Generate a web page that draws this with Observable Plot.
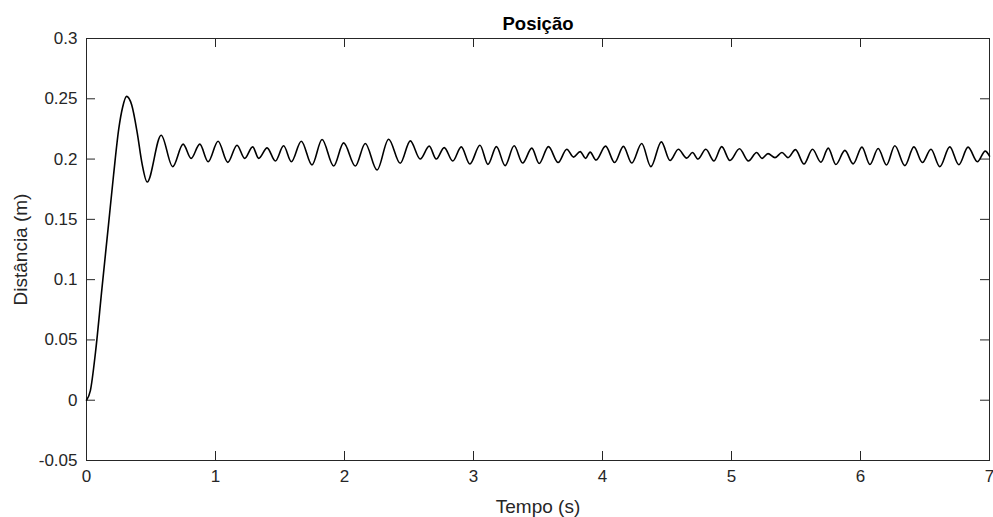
<!DOCTYPE html>
<html><head><meta charset="utf-8">
<script src="https://cdn.jsdelivr.net/npm/d3@7"></script>
<script src="https://cdn.jsdelivr.net/npm/@observablehq/plot@0.6"></script>
<style>body{margin:0;background:#fff} svg{display:block}</style>
</head><body><div id="chart"></div>
<script>
const titulo = "Posição";
const xLabel = "Tempo (s)";
const yLabel = "Distância (m)";
const xTicks = [0, 1, 2, 3, 4, 5, 6, 7];
const yTicks = [-0.05, 0, 0.05, 0.1, 0.15, 0.2, 0.25, 0.3];

const tempo = [
  0, 0.03, 0.07, 0.12, 0.17, 0.21, 0.25, 0.28, 0.31, 0.35, 0.393, 0.431, 0.470,
  0.579, 0.668, 0.749, 0.811, 0.878, 0.943, 1.020, 1.095, 1.167, 1.226, 1.288, 1.335,
  1.400, 1.464, 1.528, 1.588, 1.665, 1.748, 1.826, 1.916, 1.993, 2.084, 2.161, 2.252,
  2.342, 2.432, 2.510, 2.587, 2.657, 2.711, 2.773, 2.839, 2.905, 2.972, 3.050, 3.112,
  3.178, 3.245, 3.315, 3.381, 3.452, 3.509, 3.581, 3.656, 3.723, 3.776, 3.827, 3.869,
  3.904, 3.950, 4.024, 4.094, 4.162, 4.227, 4.304, 4.375, 4.456, 4.524, 4.588, 4.653,
  4.698, 4.740, 4.801, 4.864, 4.924, 4.988, 5.062, 5.131, 5.195, 5.236, 5.283, 5.337,
  5.391, 5.438, 5.496, 5.562, 5.628, 5.693, 5.750, 5.809, 5.879, 5.943, 6.011, 6.073,
  6.137, 6.202, 6.266, 6.344, 6.414, 6.480, 6.546, 6.615, 6.692, 6.762, 6.834, 6.906,
  6.967, 7.0
];
const distancia = [
  0, 0.008, 0.040, 0.093, 0.145, 0.187, 0.225, 0.243, 0.252, 0.245, 0.222, 0.196, 0.181,
  0.2198, 0.1937, 0.2124, 0.2006, 0.2124, 0.1978, 0.2148, 0.1973, 0.2115, 0.2006, 0.2101, 0.2006,
  0.2093, 0.1984, 0.2110, 0.1978, 0.2148, 0.1951, 0.2162, 0.1942, 0.2134, 0.1942, 0.2129, 0.1909,
  0.2165, 0.1965, 0.2151, 0.2000, 0.2107, 0.2000, 0.2095, 0.1984, 0.2101, 0.1959, 0.2115, 0.1956,
  0.2103, 0.1946, 0.2110, 0.1967, 0.2091, 0.1963, 0.2103, 0.1971, 0.2082, 0.2016, 0.2062, 0.2006,
  0.2058, 0.1992, 0.2107, 0.1971, 0.2105, 0.1967, 0.2129, 0.1937, 0.2143, 0.1988, 0.2081, 0.2008,
  0.2054, 0.2000, 0.2081, 0.1984, 0.2103, 0.1988, 0.2085, 0.1984, 0.2054, 0.2006, 0.2045, 0.2012,
  0.2054, 0.2012, 0.2078, 0.1959, 0.2081, 0.1974, 0.2091, 0.1955, 0.2072, 0.1960, 0.2099, 0.1955,
  0.2088, 0.1951, 0.2111, 0.1946, 0.2101, 0.1971, 0.2082, 0.1937, 0.2101, 0.1953, 0.2099, 0.1978,
  0.2066, 0.2025
];

const data = tempo.map((t, i) => ({t, d: distancia[i]}));

const W = 993, H = 517, mt = 38, mb = 57, ml = 86, mr = 4;
const frameH = H - mt - mb, frameW = W - ml - mr, tick = 9;
const axisColor = "#262626";

const chart = Plot.plot({
  width: W, height: H,
  marginTop: mt, marginBottom: mb, marginLeft: ml, marginRight: mr,
  style: {fontFamily: "'Liberation Sans', Arial, sans-serif", background: "#fff", color: axisColor},
  x: {domain: [0, 7]},
  y: {domain: [-0.05, 0.3]},
  marks: [
    Plot.axisX(xTicks, {tickSize: 0, tickPadding: 9, fontSize: 17, label: null, tickFormat: d => String(d)}),
    Plot.axisY(yTicks, {tickSize: 0, tickPadding: 9, fontSize: 17, label: null, tickFormat: d => String(+d.toFixed(2))}),
    Plot.tickX(xTicks, {x: d => d, insetTop: frameH - tick, stroke: axisColor}),
    Plot.tickX(xTicks, {x: d => d, insetBottom: frameH - tick, stroke: axisColor}),
    Plot.tickY(yTicks, {y: d => d, insetRight: frameW - tick, stroke: axisColor}),
    Plot.tickY(yTicks, {y: d => d, insetLeft: frameW - tick, stroke: axisColor}),
    Plot.frame({stroke: axisColor}),
    Plot.line(data, {x: "t", y: "d", curve: "monotone-x", stroke: "#000", strokeWidth: 1.6}),
    Plot.text([titulo], {frameAnchor: "top", dy: -14, textAnchor: "middle", lineAnchor: "middle", fontWeight: "bold", fontSize: 18.5, fill: "#000"}),
    Plot.text([xLabel], {frameAnchor: "bottom", dy: 46, textAnchor: "middle", lineAnchor: "middle", fontSize: 19, fill: axisColor}),
    Plot.text([yLabel], {frameAnchor: "left", dx: -66, rotate: -90, textAnchor: "middle", lineAnchor: "middle", fontSize: 19, fill: axisColor})
  ]
});
document.getElementById("chart").appendChild(chart);
</script>
</body></html>
